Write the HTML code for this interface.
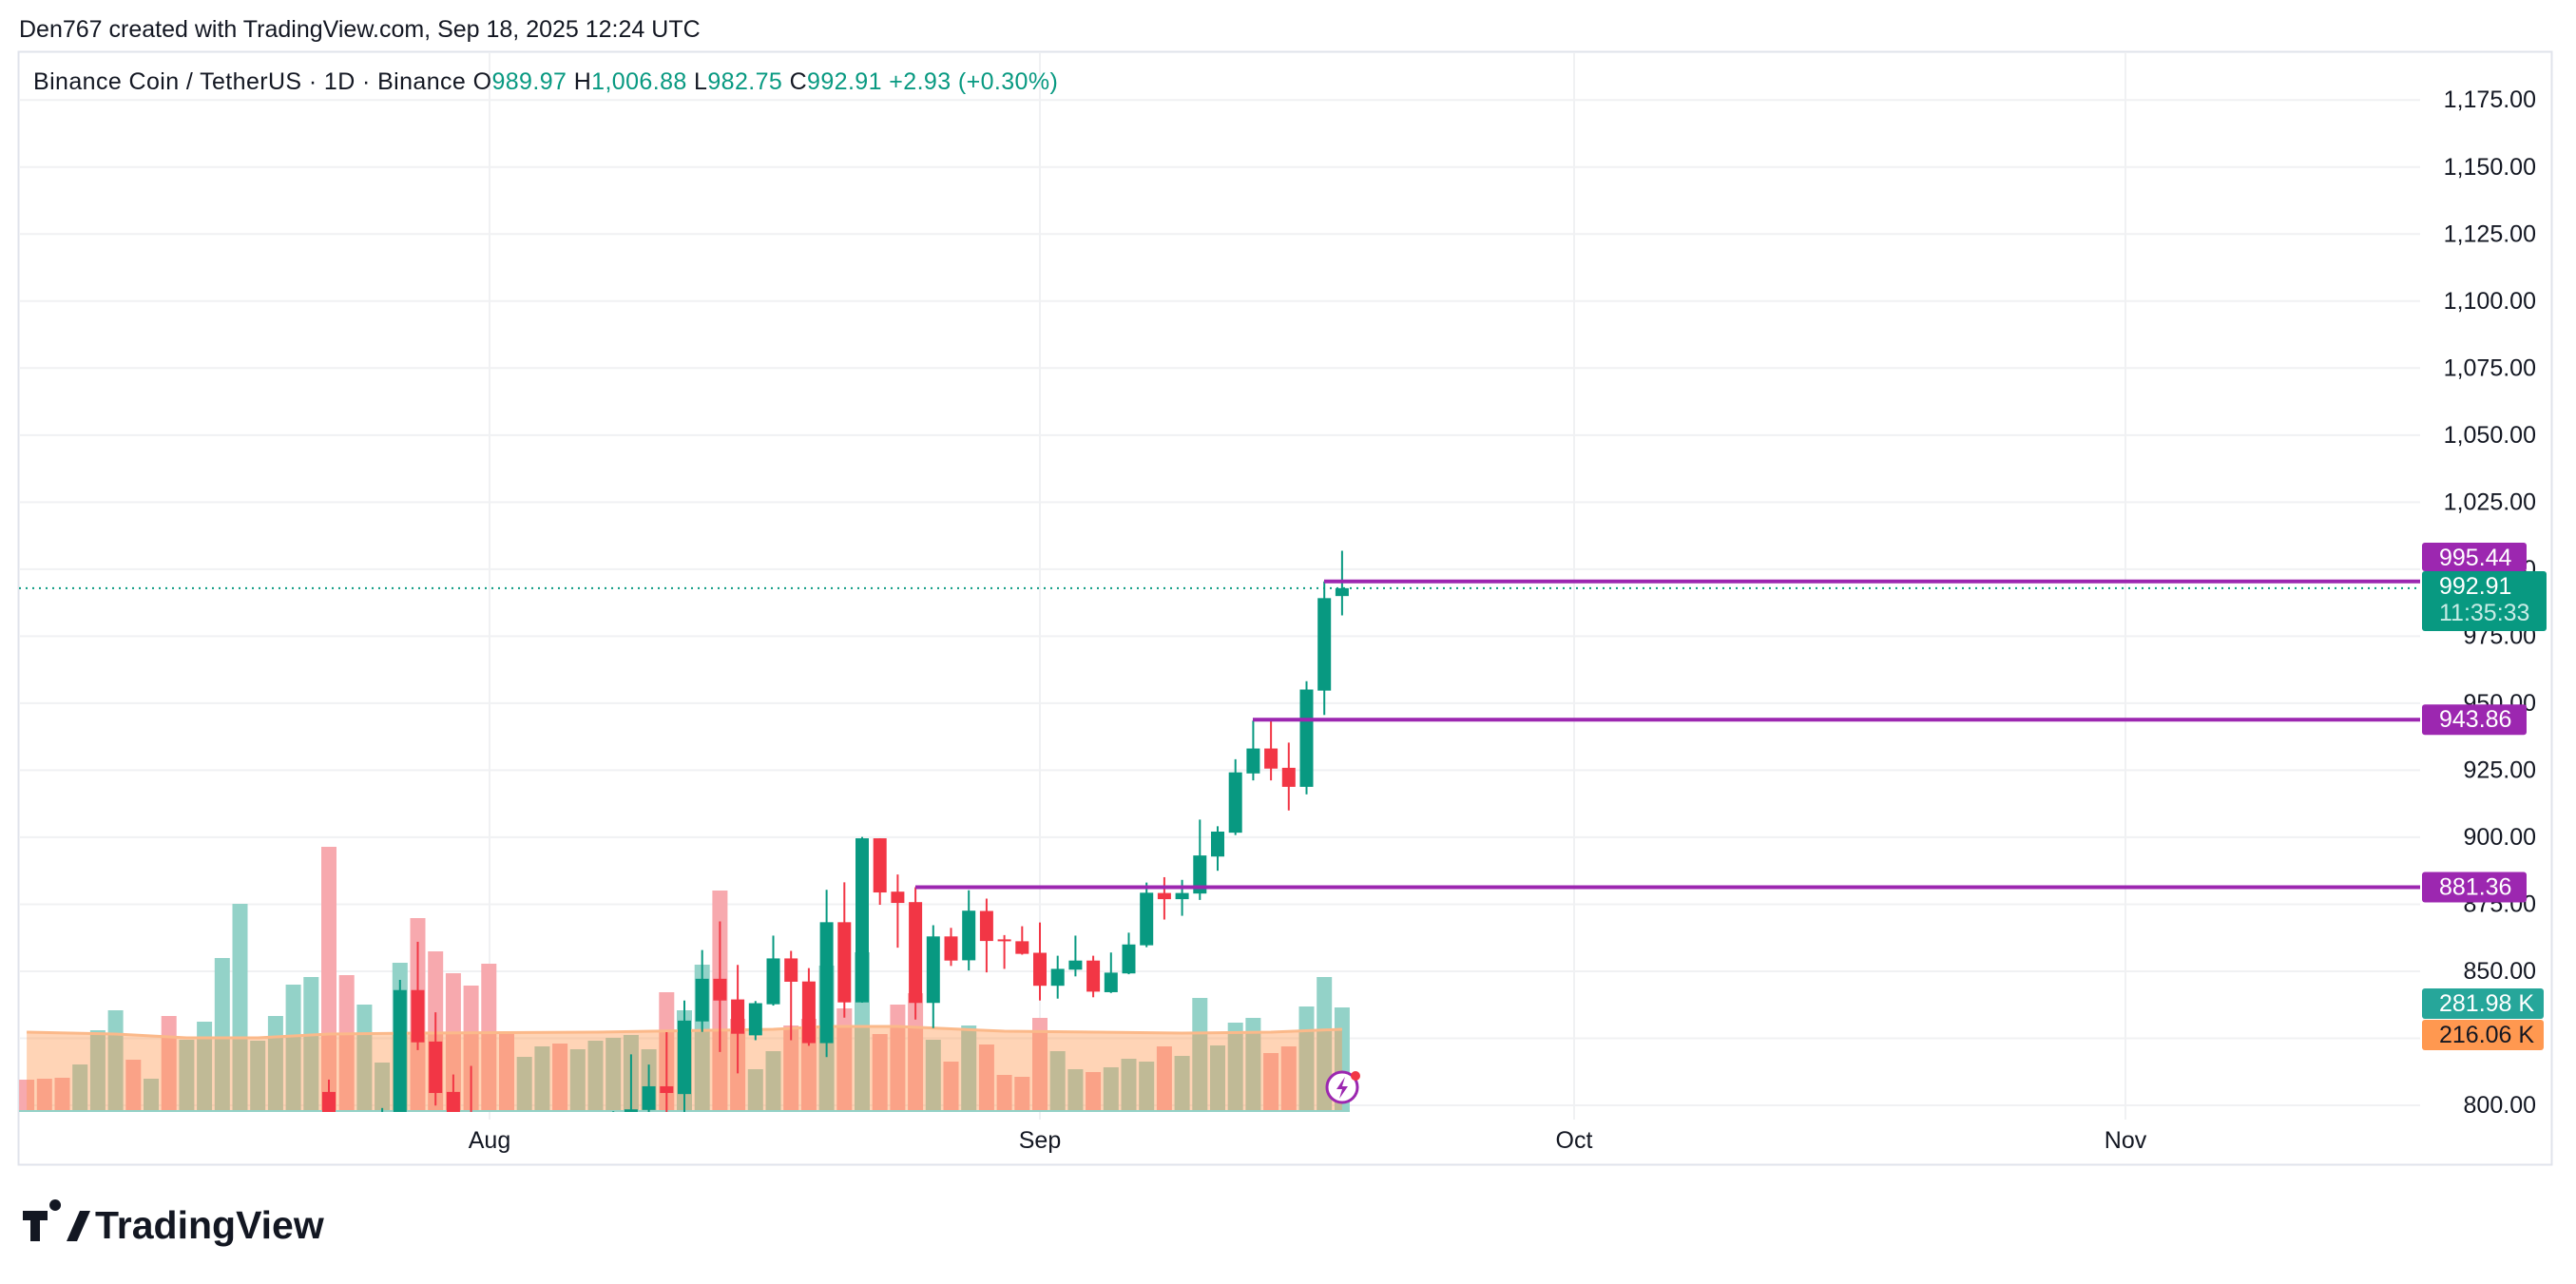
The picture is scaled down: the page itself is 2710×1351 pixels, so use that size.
<!DOCTYPE html>
<html><head><meta charset="utf-8"><style>
html,body{margin:0;padding:0;background:#fff;}
body{width:2710px;height:1346px;overflow:hidden;font-family:"Liberation Sans",sans-serif;}
</style></head><body>
<svg id="s" width="2710" height="1346" viewBox="0 0 2710 1346" xmlns="http://www.w3.org/2000/svg" font-family="Liberation Sans, sans-serif">
<rect width="2710" height="1346" fill="#fff"/>
<text x="20" y="39" font-size="25" fill="#131722">Den767 created with TradingView.com, Sep 18, 2025 12:24 UTC</text>
<rect x="19.5" y="54.5" width="2665" height="1171" fill="none" stroke="#e0e3eb" stroke-width="2"/>
<defs><clipPath id="cp"><rect x="20" y="55" width="2526" height="1115"/></clipPath></defs>
<g id="grid"></g>
<g id="vol" clip-path="url(#cp)"></g>
<g id="cnd" clip-path="url(#cp)"></g>
<g id="ax"></g>
<text x="35" y="94" font-size="25" fill="#131722" letter-spacing="0.4">Binance Coin / TetherUS · 1D · Binance  <tspan>O</tspan><tspan fill="#089981">989.97</tspan>  <tspan>H</tspan><tspan fill="#089981">1,006.88</tspan>  <tspan>L</tspan><tspan fill="#089981">982.75</tspan>  <tspan>C</tspan><tspan fill="#089981">992.91</tspan>  <tspan fill="#089981">+2.93 (+0.30%)</tspan></text>
<g transform="translate(24,1270)">
<path d="M0 4h26v10h-8v22h-10v-22h-8z M34 4 a6 6 0 1 1 0.1 0z" fill="#131722"/>
<path d="M46 36l14-32h11l-14 32z" fill="#131722"/>
<text x="76" y="33" font-size="41" font-weight="bold" fill="#131722">TradingView</text>
</g>
</svg>
<script>
const ns='http://www.w3.org/2000/svg';
function el(p,t,a,txt){const e=document.createElementNS(ns,t);for(const k in a)e.setAttribute(k,a[k]);if(txt!==undefined)e.textContent=txt;document.getElementById(p).appendChild(e);return e;}
const Y=p=>1163-(p-800)*2.8207;
const X=i=>1094+i*18.7;
for(let p=800;p<=1175;p+=25){const y=Y(p);el('grid','line',{x1:20,x2:2546,y1:y,y2:y,stroke:'#f0f1f3','stroke-width':2});
 el('ax','text',{x:2668,y:y+8,'font-size':25,fill:'#131722','text-anchor':'end'},p.toLocaleString('en-US',{minimumFractionDigits:2}));}
[[515,'Aug'],[1094,'Sep'],[1656,'Oct'],[2236,'Nov']].forEach(([x,t])=>{el('grid','line',{x1:x,x2:x,y1:55,y2:1178,stroke:'#f0f1f3','stroke-width':2});el('ax','text',{x:x,y:1208,'font-size':25,fill:'#131722','text-anchor':'middle'},t);});
const V=[[-57,1136,0],[-56,1135,0],[-55,1134,0],[-54,1120,1],[-53,1084,1],[-52,1063,1],[-51,1115,0],[-50,1135,1],[-49,1069,0],[-48,1094,1],[-47,1075,1],[-46,1008,1],[-45,951,1],[-44,1095,1],[-43,1069,1],[-42,1036,1],[-41,1028,1],[-40,891,0],[-39,1026,0],[-38,1057,1],[-37,1118,1],[-36,1013,1],[-35,966,0],[-34,1001,0],[-33,1024,0],[-32,1037,0],[-31,1014,0],[-30,1086,0],[-29,1112,1],[-28,1101,1],[-27,1098,0],[-26,1104,1],[-25,1095,1],[-24,1092,1],[-23,1089,1],[-22,1104,1],[-21,1044,0],[-20,1063,1],[-19,1015,1],[-18,937,0],[-17,1072,0],[-16,1125,1],[-15,1106,1],[-14,1079,0],[-13,1072,0],[-12,1016,1],[-11,1061,0],[-10,1002,1],[-9,1088,0],[-8,1057,0],[-7,1045,0],[-6,1094,1],[-5,1117,0],[-4,1079,1],[-3,1099,0],[-2,1131,0],[-1,1133,0],[0,1071,0],[1,1106,1],[2,1125,1],[3,1128,0],[4,1123,1],[5,1114,1],[6,1117,1],[7,1101,0],[8,1111,1],[9,1050,1],[10,1100,1],[11,1076,1],[12,1071,1],[13,1108,0],[14,1101,0],[15,1059,1],[16,1028,1],[17,1060,1]];
V.forEach(([i,t,g])=>el('vol','rect',{x:X(i)-8,y:t,width:16,height:1170-t,fill:g?'#93d2c8':'#f7a9ae'}));
const M=[[-57,1086],[-52,1088],[-48,1092],[-44,1092],[-40,1088],[-35,1087],[-25,1086],[-15,1083],[-12,1080],[-8,1080],[-2,1085],[8,1087],[13,1086],[17,1083]];
let d='M'+X(-57)+' 1170 '+M.map(([i,y])=>'L'+X(i)+' '+y).join(' ')+' L'+X(17)+' 1170Z';
el('vol','path',{d:d,fill:'#ff9850','fill-opacity':0.42});
el('vol','path',{d:'M'+M.map(([i,y])=>X(i)+' '+y).join(' L'),fill:'none',stroke:'#fbb98a','stroke-width':3});
el('vol','line',{x1:20,x2:X(17)+8,y1:1169,y2:1169,stroke:'#93d2c8','stroke-width':2});
const C=[[-40,805,790,809.6,780],[-37,790,797,799,785],[-36,790,843,846.8,788],[-35,843,823.5,861,820.6],[-34,823.8,804.6,834.7,799.9],[-33,805,797.5,811.5,790],[-32,797,785,814.7,780],[-24,795,797.5,797.8,790],[-23,797.5,798.5,819,795],[-22,798.3,807.1,815.2,797],[-21,807.1,804.6,827.3,797],
[-20,804.2,831.6,839.1,797.1],[-19,831.3,847.2,857.9,827.4],[-18,847.2,839.1,868.6,819.9],[-17,839.5,826.7,852.4,811.9],[-16,826.1,838.1,838.9,824.3],[-15,837.7,854.8,863.3,837.2],[-14,854.8,846.1,857.6,824.3],[-13,846.2,823.2,851.2,822.2],[-12,823.2,868.3,880.4,818],[-11,868.3,838.4,883.2,832.7],[-10,838.4,899.6,900.1,838.3],[-9,899.6,879.4,899.6,874.8],[-8,879.7,875.5,886.1,858.8],[-7,875.8,838.2,881.36,832],[-6,838.2,863,867.2,828.8],[-5,863,854,866.2,852],[-4,854.1,872.6,880.2,850.3],[-3,872.5,861.3,877.1,849.6],[-2,861.9,861.3,863.5,850.9],[-1,861.2,856.5,866.8,856.2],[0,856.9,844.6,868.2,839.1],[1,844.6,850.9,855.8,839.8],[2,850.6,854,863.3,848.1],[3,854,842.4,855.8,840.3],[4,842.2,849.5,857,841.9],[5,849.2,860,864.4,848.9],[6,859.7,879.3,883.1,859],[7,879.2,876.9,885.1,869.3],[8,876.9,879.2,884.1,870.7],[9,879,893.2,906.6,876.6],[10,892.8,902.1,904.1,887.5],[11,901.7,924.2,929.1,900.8],[12,923.8,933.1,943.5,921.2],[13,933.1,925.6,943.86,921.2],[14,925.9,918.8,935.3,910],[15,918.8,955.1,958.2,916],[16,954.7,989.2,995.44,945.6],[17,989.97,992.91,1006.88,982.75]];
C.forEach(([i,o,c,h,l])=>{const col=c>=o?'#089981':'#f23645';const x=X(i);
 el('cnd','line',{x1:x,x2:x,y1:Y(h),y2:Y(l),stroke:col,'stroke-width':2});
 const t=Y(Math.max(o,c)),b=Y(Math.min(o,c));el('cnd','rect',{x:x-7,y:t,width:14,height:Math.max(2,b-t),fill:col});});
el('cnd','line',{x1:20,x2:2546,y1:Y(992.91),y2:Y(992.91),stroke:'#089981','stroke-width':2,'stroke-dasharray':'2 5'});
[[995.44,1393],[943.86,1318],[881.36,963]].forEach(([p,x])=>{el('cnd','line',{x1:x,x2:2546,y1:Y(p),y2:Y(p),stroke:'#9c27b0','stroke-width':4});});
el('cnd','circle',{cx:1412,cy:1144,r:16,fill:'#fff',stroke:'#9c27b0','stroke-width':3});
el('cnd','path',{d:'M1415 1133 l-9 13 h6 l-3 10 l9 -13 h-6z',fill:'#9c27b0'});
el('cnd','circle',{cx:1426,cy:1132,r:5,fill:'#f23645'});
function lab(y,h,w,fill,lines,tc){el('ax','rect',{x:2548,y:y,width:w,height:h,rx:3,fill:fill});lines.forEach((t,k)=>el('ax','text',{x:2566,y:y+24+k*28,'font-size':25,fill:tc[k]},t));}
lab(601,63,131,'#089981',['992.91','11:35:33'],['#fff','#c8ece5']);
lab(571,30,110,'#9c27b0',['995.44'],['#fff']);
lab(Y(943.86)-16,32,110,'#9c27b0',['943.86'],['#fff']);
lab(Y(881.36)-16,32,110,'#9c27b0',['881.36'],['#fff']);
lab(1040,32,128,'#26a69a',['281.98 K'],['#fff']);
lab(1073,32,128,'#ff9850',['216.06 K'],['#131722']);
</script>
</body></html>
